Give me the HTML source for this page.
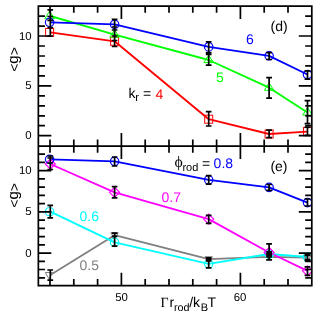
<!DOCTYPE html>
<html><head><meta charset="utf-8"><title>chart</title>
<style>html,body{margin:0;padding:0;background:#fff;overflow:hidden}body{width:325px;height:314px;position:relative;font-family:"Liberation Sans",sans-serif}</style>
</head><body>
<svg width="325" height="314" viewBox="0 0 325 314" text-rendering="geometricPrecision" style="display:block;position:absolute;left:0;top:0;will-change:transform">
<rect x="0" y="0" width="325" height="314" fill="#fff"/>
<clipPath id="c1"><rect x="38.35" y="6.1" width="273.45" height="279.59999999999997"/></clipPath>
<g clip-path="url(#c1)">
<polyline fill="none" stroke="#ff0000" stroke-width="1.85" stroke-linejoin="round" points="50.3,32.4 114.6,41.3 208.7,119.2 269.1,134.0 307.5,131.6"/>
<polyline fill="none" stroke="#00ff00" stroke-width="1.85" stroke-linejoin="round" points="50.3,16.0 114.6,34.6 208.7,60.0 269.1,87.7 307.5,112.5"/>
<polyline fill="none" stroke="#0000ff" stroke-width="1.85" stroke-linejoin="round" points="50.3,22.3 114.6,24.4 208.7,46.9 269.1,55.8 307.5,74.5"/>
<polyline fill="none" stroke="#808080" stroke-width="1.85" stroke-linejoin="round" points="50.3,275.0 114.6,235.2 208.7,259.2 269.1,256.9 307.5,257.6"/>
<polyline fill="none" stroke="#00ffff" stroke-width="1.85" stroke-linejoin="round" points="50.3,211.7 114.6,242.4 208.7,263.8 269.1,254.0 307.5,257.0"/>
<polyline fill="none" stroke="#ff00ff" stroke-width="1.85" stroke-linejoin="round" points="50.3,164.0 114.6,192.3 208.7,219.1 269.1,252.5 307.5,270.8"/>
<polyline fill="none" stroke="#0000ff" stroke-width="1.85" stroke-linejoin="round" points="50.3,159.3 114.6,161.3 208.7,179.8 269.1,187.4 307.5,202.6"/>
<rect x="45.6" y="28.4" width="8.0" height="8.0" fill="none" stroke="#ff0000" stroke-width="1.0"/>
<rect x="110.6" y="37.3" width="8.0" height="8.0" fill="none" stroke="#ff0000" stroke-width="1.0"/>
<rect x="204.7" y="115.2" width="8.0" height="8.0" fill="none" stroke="#ff0000" stroke-width="1.0"/>
<rect x="265.1" y="130.0" width="8.0" height="8.0" fill="none" stroke="#ff0000" stroke-width="1.0"/>
<rect x="303.5" y="127.6" width="8.0" height="8.0" fill="none" stroke="#ff0000" stroke-width="1.0"/>
<path d="M49.6 11.1L54.4 18.6H44.8Z" fill="none" stroke="#00ff00" stroke-width="1.0"/>
<path d="M114.6 29.7L119.4 37.2H109.8Z" fill="none" stroke="#00ff00" stroke-width="1.0"/>
<path d="M208.7 55.1L213.5 62.6H203.9Z" fill="none" stroke="#00ff00" stroke-width="1.0"/>
<path d="M269.1 82.8L273.9 90.3H264.3Z" fill="none" stroke="#00ff00" stroke-width="1.0"/>
<path d="M307.5 107.6L312.3 115.1H302.7Z" fill="none" stroke="#00ff00" stroke-width="1.0"/>
<circle cx="49.6" cy="22.3" r="4.2" fill="none" stroke="#0000ff" stroke-width="1.2"/>
<circle cx="114.6" cy="24.4" r="4.2" fill="none" stroke="#0000ff" stroke-width="1.2"/>
<circle cx="208.7" cy="46.9" r="4.2" fill="none" stroke="#0000ff" stroke-width="1.2"/>
<circle cx="269.1" cy="55.8" r="4.2" fill="none" stroke="#0000ff" stroke-width="1.2"/>
<circle cx="307.5" cy="74.5" r="4.2" fill="none" stroke="#0000ff" stroke-width="1.2"/>
<path d="M49.0 278.9L52.7 272.5H45.3Z" fill="none" stroke="#808080" stroke-width="1.0"/>
<path d="M114.6 239.1L118.3 232.7H110.9Z" fill="none" stroke="#808080" stroke-width="1.0"/>
<path d="M208.7 263.1L212.4 256.7H205.0Z" fill="none" stroke="#808080" stroke-width="1.0"/>
<path d="M269.1 260.8L272.8 254.4H265.4Z" fill="none" stroke="#808080" stroke-width="1.0"/>
<path d="M307.5 261.5L311.2 255.1H303.8Z" fill="none" stroke="#808080" stroke-width="1.0"/>
<circle cx="49.6" cy="211.7" r="4.2" fill="none" stroke="#00ffff" stroke-width="1.2"/>
<circle cx="114.6" cy="242.4" r="4.2" fill="none" stroke="#00ffff" stroke-width="1.2"/>
<circle cx="208.7" cy="263.8" r="4.2" fill="none" stroke="#00ffff" stroke-width="1.2"/>
<circle cx="269.1" cy="254.0" r="4.2" fill="none" stroke="#00ffff" stroke-width="1.2"/>
<circle cx="307.5" cy="257.0" r="4.2" fill="none" stroke="#00ffff" stroke-width="1.2"/>
<path d="M50.3 159.0L55.3 164.0L50.3 169.0L45.3 164.0Z" fill="none" stroke="#ff00ff" stroke-width="1.2"/>
<path d="M114.6 187.3L119.6 192.3L114.6 197.3L109.6 192.3Z" fill="none" stroke="#ff00ff" stroke-width="1.2"/>
<path d="M208.7 214.1L213.7 219.1L208.7 224.1L203.7 219.1Z" fill="none" stroke="#ff00ff" stroke-width="1.2"/>
<path d="M269.1 247.5L274.1 252.5L269.1 257.5L264.1 252.5Z" fill="none" stroke="#ff00ff" stroke-width="1.2"/>
<path d="M307.5 265.8L312.5 270.8L307.5 275.8L302.5 270.8Z" fill="none" stroke="#ff00ff" stroke-width="1.2"/>
<circle cx="49.6" cy="159.3" r="4.2" fill="none" stroke="#0000ff" stroke-width="1.2"/>
<circle cx="114.6" cy="161.3" r="4.2" fill="none" stroke="#0000ff" stroke-width="1.2"/>
<circle cx="208.7" cy="179.8" r="4.2" fill="none" stroke="#0000ff" stroke-width="1.2"/>
<circle cx="269.1" cy="187.4" r="4.2" fill="none" stroke="#0000ff" stroke-width="1.2"/>
<circle cx="307.5" cy="202.6" r="4.2" fill="none" stroke="#0000ff" stroke-width="1.2"/>
<path d="M50.3 9.9V36.0M47.4 9.9H53.1M47.4 16.5H53.1M47.4 20.3H53.1M47.4 27.6H53.1M47.4 36.0H53.1" stroke="#000" stroke-width="1.7" fill="none"/>
<path d="M114.6 19.3V46.5M111.8 19.3H117.4M111.8 27.0H117.4M111.8 30.0H117.4M111.8 36.0H117.4M111.8 40.5H117.4M111.8 46.5H117.4" stroke="#000" stroke-width="1.7" fill="none"/>
<path d="M208.7 41.8V52.6M208.7 54.3V65.2M208.7 111.7V126.0M205.8 41.8H211.5M205.8 52.6H211.5M205.8 54.3H211.5M205.8 65.2H211.5M205.8 111.7H211.5M205.8 126.0H211.5" stroke="#000" stroke-width="1.7" fill="none"/>
<path d="M269.1 52.6V59.5M269.1 77.6V98.2M269.1 130.2V137.6M266.2 52.6H272.0M266.2 59.5H272.0M266.2 77.6H272.0M266.2 98.2H272.0M266.2 130.2H272.0M266.2 137.6H272.0" stroke="#000" stroke-width="1.7" fill="none"/>
<path d="M307.5 70.9V79.2M307.5 100.6V123.6M307.5 127.2V135.4M304.6 70.9H310.4M304.6 79.2H310.4M304.6 100.6H310.4M304.6 123.6H310.4M304.6 127.2H310.4M304.6 135.4H310.4" stroke="#000" stroke-width="1.7" fill="none"/>
<path d="M50.3 156.0V169.5M50.3 205.4V217.8M50.3 270.0V280.2M47.4 156.0H53.1M47.4 158.0H53.1M47.4 163.0H53.1M47.4 169.5H53.1M47.4 205.4H53.1M47.4 217.8H53.1M47.4 270.0H53.1M47.4 280.2H53.1" stroke="#000" stroke-width="1.7" fill="none"/>
<path d="M114.6 157.0V166.0M114.6 186.6V197.9M114.6 233.2V246.1M111.8 157.0H117.4M111.8 166.0H117.4M111.8 186.6H117.4M111.8 197.9H117.4M111.8 233.2H117.4M111.8 236.3H117.4M111.8 246.1H117.4" stroke="#000" stroke-width="1.7" fill="none"/>
<path d="M208.7 175.6V184.1M208.7 215.3V223.4M208.7 257.8V267.9M205.8 175.6H211.5M205.8 184.1H211.5M205.8 215.3H211.5M205.8 223.4H211.5M205.8 257.8H211.5M205.8 259.5H211.5M205.8 261.0H211.5M205.8 267.9H211.5" stroke="#000" stroke-width="1.7" fill="none"/>
<path d="M269.1 184.5V190.3M269.1 243.8V259.8M266.2 184.5H272.0M266.2 190.3H272.0M266.2 243.8H272.0M266.2 251.8H272.0M266.2 253.5H272.0M266.2 255.2H272.0M266.2 256.9H272.0M266.2 259.8H272.0" stroke="#000" stroke-width="1.7" fill="none"/>
<path d="M307.5 199.0V206.0M307.5 254.7V260.7M307.5 266.8V275.4M304.6 199.0H310.4M304.6 206.0H310.4M304.6 254.7H310.4M304.6 255.5H310.4M304.6 259.5H310.4M304.6 260.7H310.4M304.6 266.8H310.4M304.6 275.4H310.4" stroke="#000" stroke-width="1.7" fill="none"/>
</g>
<path d="M50.0 6.1v6.6M50.0 139.5v13.2M50.0 285.7v-6.6M73.8 6.1v6.6M73.8 139.5v13.2M73.8 285.7v-6.6M97.6 6.1v6.6M97.6 139.5v13.2M97.6 285.7v-6.6M121.4 6.1v13.0M121.4 133.1v26.0M121.4 285.7v-13.0M145.2 6.1v6.6M145.2 139.5v13.2M145.2 285.7v-6.6M169.0 6.1v6.6M169.0 139.5v13.2M169.0 285.7v-6.6M192.8 6.1v6.6M192.8 139.5v13.2M192.8 285.7v-6.6M216.6 6.1v6.6M216.6 139.5v13.2M216.6 285.7v-6.6M240.4 6.1v13.0M240.4 133.1v26.0M240.4 285.7v-13.0M264.2 6.1v6.6M264.2 139.5v13.2M264.2 285.7v-6.6M288.0 6.1v6.6M288.0 139.5v13.2M288.0 285.7v-6.6M38.35 135.7h13.0M311.8 135.7h-13.0M38.35 125.7h6.6M311.8 125.7h-6.6M38.35 115.8h6.6M311.8 115.8h-6.6M38.35 105.8h6.6M311.8 105.8h-6.6M38.35 95.8h6.6M311.8 95.8h-6.6M38.35 85.9h13.0M311.8 85.9h-13.0M38.35 75.9h6.6M38.35 65.9h6.6M311.8 65.9h-6.6M38.35 56.0h6.6M311.8 56.0h-6.6M38.35 46.0h6.6M311.8 46.0h-6.6M38.35 36.0h13.0M311.8 36.0h-13.0M38.35 26.1h6.6M311.8 26.1h-6.6M38.35 16.1h6.6M311.8 16.1h-6.6M38.35 277.8h6.6M311.8 277.8h-6.6M38.35 269.5h6.6M311.8 269.5h-6.6M38.35 261.3h6.6M311.8 261.3h-6.6M38.35 253.1h13.0M311.8 253.1h-13.0M38.35 244.8h6.6M311.8 244.8h-6.6M38.35 236.6h6.6M311.8 236.6h-6.6M38.35 228.3h6.6M311.8 228.3h-6.6M38.35 220.1h6.6M311.8 220.1h-6.6M38.35 211.9h13.0M311.8 211.9h-13.0M38.35 203.6h6.6M38.35 195.4h6.6M311.8 195.4h-6.6M38.35 187.1h6.6M311.8 187.1h-6.6M38.35 178.9h6.6M311.8 178.9h-6.6M38.35 170.7h13.0M311.8 170.7h-13.0M38.35 162.4h6.6M311.8 162.4h-6.6M38.35 154.2h6.6M311.8 154.2h-6.6" stroke="#000" stroke-width="1.7" fill="none"/>
<path d="M38.35 6.1H311.8V285.7H38.35ZM38.35 146.1H311.8" stroke="#000" stroke-width="1.7" fill="none" stroke-linejoin="miter"/>
<text x="31.6" y="39.649999999999984" font-size="11.4" fill="#000" text-anchor="end" font-family="Liberation Sans, sans-serif" >10</text>
<text x="31.6" y="89.47499999999998" font-size="11.4" fill="#000" text-anchor="end" font-family="Liberation Sans, sans-serif" >5</text>
<text x="31.6" y="139.29999999999998" font-size="11.4" fill="#000" text-anchor="end" font-family="Liberation Sans, sans-serif" >0</text>
<text x="31.6" y="174.15" font-size="11.4" fill="#000" text-anchor="end" font-family="Liberation Sans, sans-serif" >10</text>
<text x="31.6" y="215.35000000000002" font-size="11.4" fill="#000" text-anchor="end" font-family="Liberation Sans, sans-serif" >5</text>
<text x="31.6" y="256.55" font-size="11.4" fill="#000" text-anchor="end" font-family="Liberation Sans, sans-serif" >0</text>
<text x="121.5" y="301.2" font-size="11.4" fill="#000" text-anchor="middle" font-family="Liberation Sans, sans-serif" >50</text>
<text x="240" y="301.2" font-size="11.4" fill="#000" text-anchor="middle" font-family="Liberation Sans, sans-serif" >60</text>
<text transform="translate(19.3,59.5) rotate(-90)" font-size="14" text-anchor="middle" font-family="Liberation Sans, sans-serif">&lt;<tspan font-size="15" dy="-0.9">g</tspan><tspan dy="0.9">&gt;</tspan></text>
<text transform="translate(19.3,195.4) rotate(-90)" font-size="14" text-anchor="middle" font-family="Liberation Sans, sans-serif">&lt;<tspan font-size="15" dy="-0.9">g</tspan><tspan dy="0.9">&gt;</tspan></text>
<text x="270.5" y="31.3" font-size="14" fill="#000" text-anchor="start" font-family="Liberation Sans, sans-serif" >(d)</text>
<text x="270.4" y="170.9" font-size="14" fill="#000" text-anchor="start" font-family="Liberation Sans, sans-serif" >(e)</text>
<text x="246" y="44.3" font-size="14" fill="#0000ff" text-anchor="start" font-family="Liberation Sans, sans-serif" >6</text>
<text x="216" y="81.7" font-size="14" fill="#00ff00" text-anchor="start" font-family="Liberation Sans, sans-serif" >5</text>
<text x="128.6" y="97.9" font-size="14" fill="#000" text-anchor="start" font-family="Liberation Sans, sans-serif" >k</text>
<text x="135.2" y="101.0" font-size="11.3" fill="#000" text-anchor="start" font-family="Liberation Sans, sans-serif" >r</text>
<text x="143" y="97.9" font-size="14" fill="#000" text-anchor="start" font-family="Liberation Sans, sans-serif" >=</text>
<text x="155.6" y="98.6" font-size="14" fill="#ff0000" text-anchor="start" font-family="Liberation Sans, sans-serif" >4</text>
<text x="79.5" y="221.3" font-size="14" fill="#00ffff" text-anchor="start" font-family="Liberation Sans, sans-serif" >0.6</text>
<text x="79.5" y="270.4" font-size="14" fill="#808080" text-anchor="start" font-family="Liberation Sans, sans-serif" >0.5</text>
<text x="161.5" y="201.6" font-size="14" fill="#ff00ff" text-anchor="start" font-family="Liberation Sans, sans-serif" >0.7</text>
<text x="174.5" y="167.3" font-size="15.8" font-family="Liberation Serif, serif">&#x3d5;</text>
<text x="182.4" y="170.9" font-size="11" fill="#000" text-anchor="start" font-family="Liberation Sans, sans-serif" >rod</text>
<text x="202" y="168.2" font-size="14" fill="#000" text-anchor="start" font-family="Liberation Sans, sans-serif" >=</text>
<text x="213.6" y="168.2" font-size="14" fill="#0000ff" text-anchor="start" font-family="Liberation Sans, sans-serif" >0.8</text>
<text x="160.6" y="306.9" font-size="14" font-family="Liberation Serif, serif">&#x393;</text>
<text x="169.4" y="306.9" font-size="14" fill="#000" text-anchor="start" font-family="Liberation Sans, sans-serif" >r</text>
<text x="173.9" y="311.0" font-size="10.8" fill="#000" text-anchor="start" font-family="Liberation Sans, sans-serif" >rod</text>
<text x="189.2" y="306.9" font-size="14" fill="#000" text-anchor="start" font-family="Liberation Sans, sans-serif" >/k</text>
<text x="200.8" y="311.0" font-size="11" fill="#000" text-anchor="start" font-family="Liberation Sans, sans-serif" >B</text>
<text x="207.5" y="306.9" font-size="14" fill="#000" text-anchor="start" font-family="Liberation Sans, sans-serif" >T</text>
</svg>
</body></html>
